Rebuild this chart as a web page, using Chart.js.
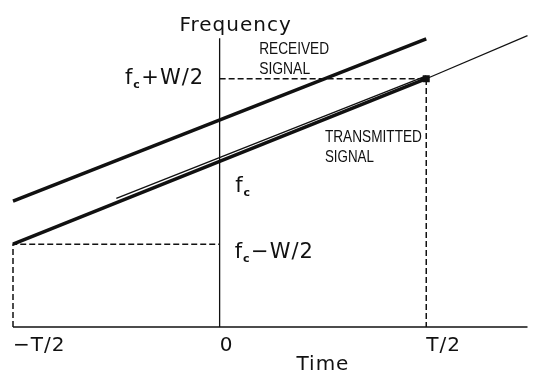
<!DOCTYPE html>
<html>
<head>
<meta charset="utf-8">
<script src="https://cdn.jsdelivr.net/npm/chart.js"></script>
<style>
    body { margin: 0; background: #fff; }
    #wrap { width: 535px; height: 373px; }
</style>
</head>
<body>
<div id="wrap"><canvas id="chart-chirp"></canvas></div>
<script>
// time in units of T/2, frequency in units of W/2 (fc = 2)
const timeTicks = [-1, 0, 1]
const timeTickLabels = ['\u2212T/2', '0', 'T/2']

const transmittedTime = [-1, 1]
const transmittedFreq = [1, 3]

const transmittedExtTime = [1, 1.49]
const transmittedExtFreq = [3, 3.52]

const echoTime = [-0.5, 1]
const echoFreq = [1.555, 3.035]

const receivedTime = [-1, 1.0]
const receivedFreq = [1.52, 3.48]

const lowGuideTime = [-1, -1, 0]
const lowGuideFreq = [0, 1, 1]
const highGuideTime = [0, 1, 1]
const highGuideFreq = [3, 3, 0]

const freqAxisTime = [0, 0]
const freqAxisFreq = [0, 3.49]
const timeAxisTime = [-1, 1.49]
const timeAxisFreq = [0, 0]

const toPoints = (xs, ys) => xs.map((x, i) => ({ x, y: ys[i] }))

function line(xs, ys, width, dash) {
    return {
        data: toPoints(xs, ys),
        showLine: true,
        borderColor: '#111',
        backgroundColor: '#111',
        borderWidth: width,
        borderDash: dash || [],
        pointRadius: 0,
        clip: false,
        borderCapStyle: 'butt'
    }
}

// f with subscript c, then the rest of the label
function drawFc(ctx, x, y, rest, align) {
    const big = '21px "DejaVu Sans"'
    const small = '11px "DejaVu Sans"'
    ctx.font = big
    const wf = ctx.measureText('f').width
    const wr = ctx.measureText(rest).width
    ctx.font = small
    const wc = ctx.measureText('c').width + 1
    const total = wf + wc + wr
    let x0 = align === 'right' ? x - total : x
    ctx.textAlign = 'left'
    ctx.textBaseline = 'alphabetic'
    ctx.font = big
    ctx.fillText('f', x0, y)
    ctx.font = 'bold ' + small
    ctx.fillText('c', x0 + wf, y + 4)
    ctx.font = big
    ctx.fillText(rest, x0 + wf + wc, y)
}

const labelsPlugin = {
    id: 'chirpLabels',
    afterDatasetsDraw(chart) {
        const { ctx, scales: { x, y } } = chart
        const px = (t, f, dx, dy) => [x.getPixelForValue(t) + dx, y.getPixelForValue(f) + dy]
        ctx.save()
        ctx.fillStyle = '#111'
        ctx.letterSpacing = '1px'

        // axis titles
        ctx.font = '20px "DejaVu Sans"'
        ctx.textAlign = 'center'
        ctx.textBaseline = 'alphabetic'
        let [a, b] = px(0, 3.86, 16, 23)
        ctx.fillText('Frequency', a, b)
        ;[a, b] = px(0.5, 0, 0, 43)
        ctx.fillText('Time', a, b)

        // time ticks
        ctx.textAlign = 'left'
        timeTicks.forEach((t, i) => {
            const [tx, ty] = px(t, 0, 0, 24)
            ctx.fillText(timeTickLabels[i], tx, ty)
        })

        // frequency marks
        ;[a, b] = px(0, 3, -15.5, 5)
        drawFc(ctx, a, b, '+W/2', 'right')
        ;[a, b] = px(0, 2, 15.5, 31)
        drawFc(ctx, a, b, '', 'left')
        ;[a, b] = px(0, 1, 15, 14)
        drawFc(ctx, a, b, '\u2212W/2', 'left')

        // signal captions
        ctx.letterSpacing = '0px'
        ctx.font = '17px "Liberation Sans"'
        ctx.textAlign = 'left'
        ctx.textBaseline = 'middle'
        ;[a, b] = px(0, 3, 39.5, -29)
        ctx.fillText('RECEIVED', a, b, 70)
        ;[a, b] = px(0, 3, 39.5, -9)
        ctx.fillText('SIGNAL', a, b, 51)
        ;[a, b] = px(0.5, 2, 2, -24)
        ctx.fillText('TRANSMITTED', a, b, 97)
        ;[a, b] = px(0.5, 2, 2, -4)
        ctx.fillText('SIGNAL', a, b, 49)
        ctx.restore()
    }
}

const transmitted = line(transmittedTime, transmittedFreq, 3.5)
transmitted.pointRadius = [0, 2.5]
transmitted.pointStyle = 'rect'

const chart = new Chart(document.getElementById('chart-chirp'), {
    type: 'scatter',
    data: {
        datasets: [
            line(freqAxisTime, freqAxisFreq, 1.3),
            line(timeAxisTime, timeAxisFreq, 1.3),
            line(lowGuideTime, lowGuideFreq, 1.5, [6, 3]),
            line(highGuideTime, highGuideFreq, 1.5, [6, 3]),
            transmitted,
            line(transmittedExtTime, transmittedExtFreq, 1.2),
            line(echoTime, echoFreq, 1.4),
            line(receivedTime, receivedFreq, 3.5)
        ]
    },
    options: {
        responsive: true,
        maintainAspectRatio: false,
        animation: false,
        layout: { padding: { left: 13, right: 0, top: 7, bottom: 46 } },
        plugins: { legend: { display: false }, tooltip: { enabled: false } },
        scales: {
            x: { type: 'linear', min: -1, max: 1.49, display: false },
            y: { type: 'linear', min: 0, max: 3.86, display: false }
        }
    },
    plugins: [labelsPlugin]
})
</script>
</body>
</html>
